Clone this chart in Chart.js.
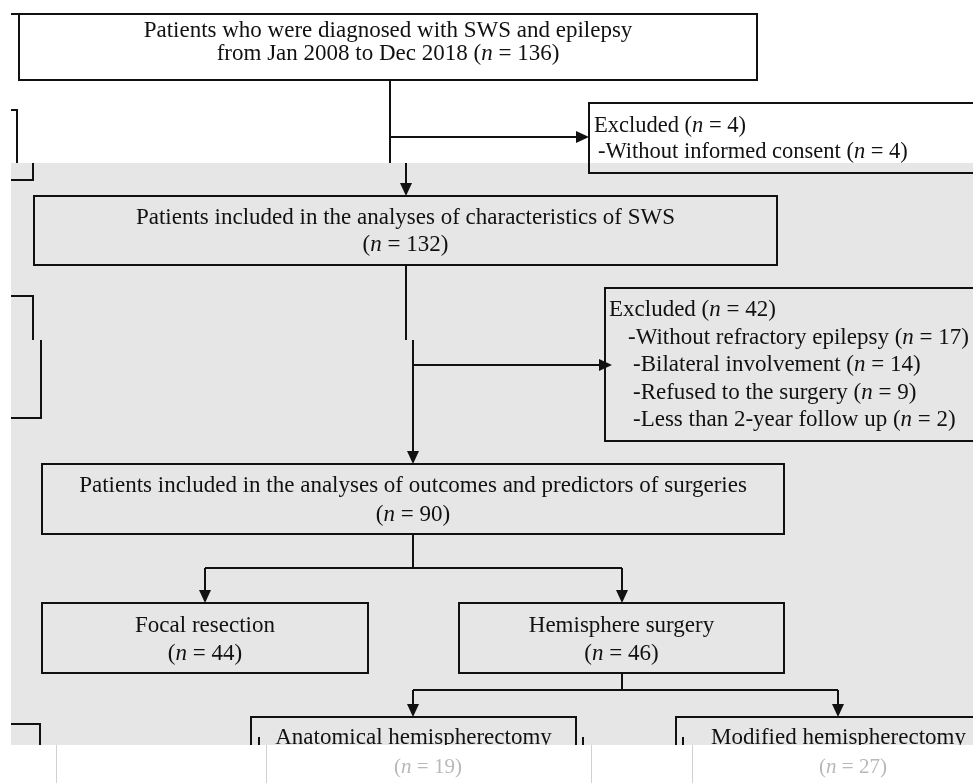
<!DOCTYPE html>
<html>
<head>
<meta charset="utf-8">
<script src="https://cdn.jsdelivr.net/npm/chart.js@4.4.1/dist/chart.umd.min.js"></script>
<style>
  html, body { margin: 0; padding: 0; background: #ffffff; }
  canvas { display: block; }
</style>
</head>
<body>
<canvas id="flow-chart" width="973" height="783"></canvas>
<script>
// cohort counts
const stageLabels = [
  "Patients who were diagnosed with SWS and epilepsy",
  "Patients included in the analyses of characteristics of SWS",
  "Patients included in the analyses of outcomes and predictors of surgeries"
];
const stageCounts = [136, 132, 90];
const studyPeriod = "from Jan 2008 to Dec 2018";

const excludedTotals = [4, 42];
const firstExclusions = ["Without informed consent"];
const firstExclusionCounts = [4];
const secondExclusions = ["Without refractory epilepsy", "Bilateral involvement", "Refused to the surgery", "Less than 2-year follow up"];
const secondExclusionCounts = [17, 14, 9, 2];

const surgeryTypes = ["Focal resection", "Hemisphere surgery"];
const surgeryCounts = [44, 46];
const hemiTypes = ["Anatomical hemispherectomy", "Modified hemispherectomy"];
const hemiCounts = [19, 27];

var FONT = '"Liberation Serif", "Times New Roman", serif';

function nPart(count) {
  return [["(", false], ["n", true], [" = " + count + ")", false]];
}

// box frames (in axis units, the axes span the whole canvas)
var layout = {
  top:   { x0: 19,  x1: 757,  y0: 14,  y1: 80 },
  exc1:  { x0: 589, x1: 1000, y0: 103, y1: 173 },
  mid:   { x0: 34,  x1: 777,  y0: 196, y1: 265 },
  exc2:  { x0: 605, x1: 1000, y0: 288, y1: 441 },
  surg:  { x0: 42,  x1: 784,  y0: 464, y1: 534 },
  focal: { x0: 42,  x1: 368,  y0: 603, y1: 673 },
  hemi:  { x0: 459, x1: 784,  y0: 603, y1: 673 },
  anat:  { x0: 251, x1: 576,  y0: 717, y1: 800 },
  modi:  { x0: 676, x1: 1001, y0: 717, y1: 800 }
};
var greyBand = { x0: 11, x1: 973, y0: 163, y1: 745 };

var texts = [
  { at: layout.top, align: "center", size: 23, rows: [
      { y: 31, parts: [[stageLabels[0], false]] },
      { y: 54, parts: [[studyPeriod + " ", false]].concat(nPart(stageCounts[0])) } ] },
  { at: layout.exc1, align: "left", x: 594, size: 22.5, rows: [
      { y: 126, parts: [["Excluded ", false]].concat(nPart(excludedTotals[0])) },
      { y: 152, x: 598, parts: [["-" + firstExclusions[0] + " ", false]].concat(nPart(firstExclusionCounts[0])) } ] },
  { at: layout.mid, align: "center", size: 23, rows: [
      { y: 218, parts: [[stageLabels[1], false]] },
      { y: 245, parts: nPart(stageCounts[1]) } ] },
  { at: layout.exc2, align: "left", x: 609, size: 23, rows: [
      { y: 310, parts: [["Excluded ", false]].concat(nPart(excludedTotals[1])) } ].concat(
      secondExclusions.map(function (r, i) {
        return { y: 338 + i * 27.3, x: i === 0 ? 628 : 633, parts: [["-" + r + " ", false]].concat(nPart(secondExclusionCounts[i])) };
      })) },
  { at: layout.surg, align: "center", size: 23, rows: [
      { y: 486, parts: [[stageLabels[2], false]] },
      { y: 515, parts: nPart(stageCounts[2]) } ] },
  { at: layout.focal, align: "center", size: 23, rows: [
      { y: 626, parts: [[surgeryTypes[0], false]] },
      { y: 654, parts: nPart(surgeryCounts[0]) } ] },
  { at: layout.hemi, align: "center", size: 23, rows: [
      { y: 626, parts: [[surgeryTypes[1], false]] },
      { y: 654, parts: nPart(surgeryCounts[1]) } ] },
  { at: layout.anat, align: "center", size: 23, rows: [
      { y: 738, parts: [[hemiTypes[0], false]] } ] },
  { at: layout.modi, align: "center", size: 23, rows: [
      { y: 738, parts: [[hemiTypes[1], false]] } ] }
];

// faded lower half of the last row of boxes
var fadedTexts = [
  { cx: 428, y: 767, parts: nPart(hemiCounts[0]) },
  { cx: 853, y: 767, parts: nPart(hemiCounts[1]) }
];

// connectors: [x0, y0, x1, y1, arrow]
var connectors = [
  [390, 80, 390, 163, false],
  [406, 163, 406, 196, true],
  [390, 137, 589, 137, true],
  [406, 265, 406, 340, false],
  [413, 340, 413, 464, true],
  [413, 365, 612, 365, true],
  [413, 534, 413, 568, false],
  [205, 568, 622, 568, false],
  [205, 568, 205, 603, true],
  [622, 568, 622, 603, true],
  [622, 673, 622, 690, false],
  [413, 690, 838, 690, false],
  [413, 690, 413, 717, true],
  [838, 690, 838, 717, true]
];

// stray frame pieces along the left edge
var fragments = [
  [[11, 14], [19, 14]],
  [[11, 110], [17, 110], [17, 163]],
  [[33, 163], [33, 180], [11, 180]],
  [[11, 296], [33, 296], [33, 340]],
  [[41, 340], [41, 418], [11, 418]],
  [[11, 724], [40, 724], [40, 745]],
  [[259, 737], [259, 745]],
  [[583, 737], [583, 745]],
  [[683, 737], [683, 745]]
];
var faintLines = [56, 266, 591, 692];

function drawRich(ctx, parts, x, y, align, size, color) {
  var widths = parts.map(function (p) {
    ctx.font = (p[1] ? "italic " : "") + size + "px " + FONT;
    return ctx.measureText(p[0]).width;
  });
  var total = widths.reduce(function (a, b) { return a + b; }, 0);
  var cx = align === "center" ? x - total / 2 : x;
  ctx.textAlign = "left";
  ctx.textBaseline = "middle";
  ctx.fillStyle = color;
  parts.forEach(function (p, i) {
    ctx.font = (p[1] ? "italic " : "") + size + "px " + FONT;
    ctx.fillText(p[0], cx, y);
    cx += widths[i];
  });
}

var flowPlugin = {
  id: "flow",
  afterDraw: function (chart) {
    var ctx = chart.ctx;
    var sx = chart.scales.x, sy = chart.scales.y;
    var X = function (v) { return sx.getPixelForValue(v); };
    var Y = function (v) { return sy.getPixelForValue(v); };
    ctx.save();

    ctx.fillStyle = "#e6e6e6";
    ctx.fillRect(X(greyBand.x0), Y(greyBand.y0), X(greyBand.x1) - X(greyBand.x0), Y(greyBand.y1) - Y(greyBand.y0));

    ctx.strokeStyle = "#111111";
    ctx.lineWidth = 2;
    Object.keys(layout).forEach(function (k) {
      var b = layout[k];
      ctx.strokeRect(X(b.x0), Y(b.y0), X(b.x1) - X(b.x0), Y(b.y1) - Y(b.y0));
    });

    connectors.forEach(function (c) {
      var x0 = X(c[0]), y0 = Y(c[1]), x1 = X(c[2]), y1 = Y(c[3]);
      var ex = x1, ey = y1;
      if (c[4]) {
        if (x0 === x1) ey = y1 - 11; else ex = x1 - 11;
      }
      ctx.beginPath();
      ctx.moveTo(x0, y0);
      ctx.lineTo(ex, ey);
      ctx.stroke();
      if (c[4]) {
        ctx.fillStyle = "#111111";
        ctx.beginPath();
        if (x0 === x1) {
          ctx.moveTo(x1, y1); ctx.lineTo(x1 - 6, y1 - 13); ctx.lineTo(x1 + 6, y1 - 13);
        } else {
          ctx.moveTo(x1, y1); ctx.lineTo(x1 - 13, y1 - 6); ctx.lineTo(x1 - 13, y1 + 6);
        }
        ctx.closePath();
        ctx.fill();
      }
    });

    fragments.forEach(function (f) {
      ctx.beginPath();
      f.forEach(function (p, i) {
        if (i === 0) ctx.moveTo(X(p[0]), Y(p[1])); else ctx.lineTo(X(p[0]), Y(p[1]));
      });
      ctx.stroke();
    });

    texts.forEach(function (t) {
      var b = t.at;
      t.rows.forEach(function (r) {
        var x = t.align === "center" ? X((b.x0 + b.x1) / 2) : X(r.x || t.x);
        drawRich(ctx, r.parts, x, Y(r.y), t.align, t.size, "#111111");
      });
    });

    // washed-out strip at the bottom
    ctx.fillStyle = "#ffffff";
    ctx.fillRect(0, Y(greyBand.y1), chart.width, chart.height - Y(greyBand.y1));
    ctx.strokeStyle = "#d0d0d0";
    ctx.lineWidth = 1;
    faintLines.forEach(function (fx) {
      ctx.beginPath();
      ctx.moveTo(X(fx) + 0.5, Y(greyBand.y1));
      ctx.lineTo(X(fx) + 0.5, Y(783));
      ctx.stroke();
    });
    fadedTexts.forEach(function (t) {
      drawRich(ctx, t.parts, X(t.cx), Y(t.y), "center", 21, "#b8b8b8");
    });

    ctx.restore();
  }
};

new Chart(document.getElementById("flow-chart"), {
  type: "scatter",
  data: { datasets: [{ data: [], pointRadius: 0 }] },
  options: {
    responsive: false,
    animation: false,
    events: [],
    layout: { padding: 0 },
    plugins: { legend: { display: false }, tooltip: { enabled: false } },
    scales: {
      x: { type: "linear", min: 0, max: 973, display: false },
      y: { type: "linear", min: 0, max: 783, reverse: true, display: false }
    }
  },
  plugins: [flowPlugin]
});
</script>
</body>
</html>
